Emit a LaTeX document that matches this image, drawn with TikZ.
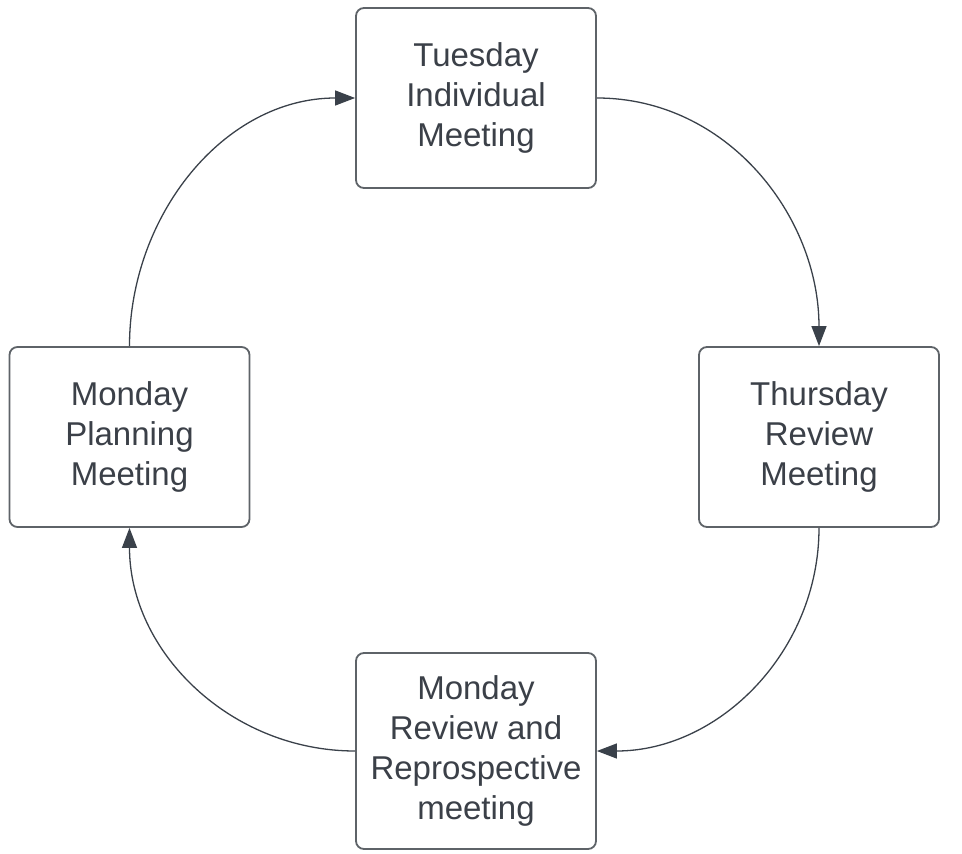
\documentclass[tikz,border=0pt]{standalone}
\usepackage{fontspec}
\setmainfont{Liberation Sans}
\usetikzlibrary{arrows.meta}
\definecolor{boxline}{HTML}{5E6368}
\definecolor{txt}{HTML}{3B4048}
\definecolor{conn}{HTML}{3A414A}
\begin{document}
\begin{tikzpicture}[x=1pt,y=-1pt,
  stagebox/.style={draw=boxline,line width=1.8pt,rounded corners=8pt,fill=white,
    minimum width=240pt,minimum height=180pt,inner sep=0pt,align=center,
    text=txt,font=\fontsize{33}{40}\selectfont},
  flow/.style={draw=conn,line width=1.3pt,-{Triangle[length=20pt,width=15pt]}}]
\useasboundingbox (0,0) rectangle (962,854);
\node[stagebox] (tue) at (476,98) {Tuesday\\Individual\\Meeting};
\node[stagebox] (thu) at (819,437) {Thursday\\Review\\Meeting};
\node[stagebox] (plan) at (129.5,437) {Monday\\Planning\\Meeting};
\node[stagebox,minimum height=196pt] (rev) at (476,751) {Monday\\Review and\\Reprospective\\meeting};
\draw[flow] (plan.north) to[out=90,in=180] (tue.west);
\draw[flow] (tue.east) to[out=0,in=90] (thu.north);
\draw[flow] (thu.south) to[out=-90,in=0] (rev.east);
\draw[flow] (rev.west) to[out=180,in=-90] (plan.south);
\end{tikzpicture}
\end{document}
